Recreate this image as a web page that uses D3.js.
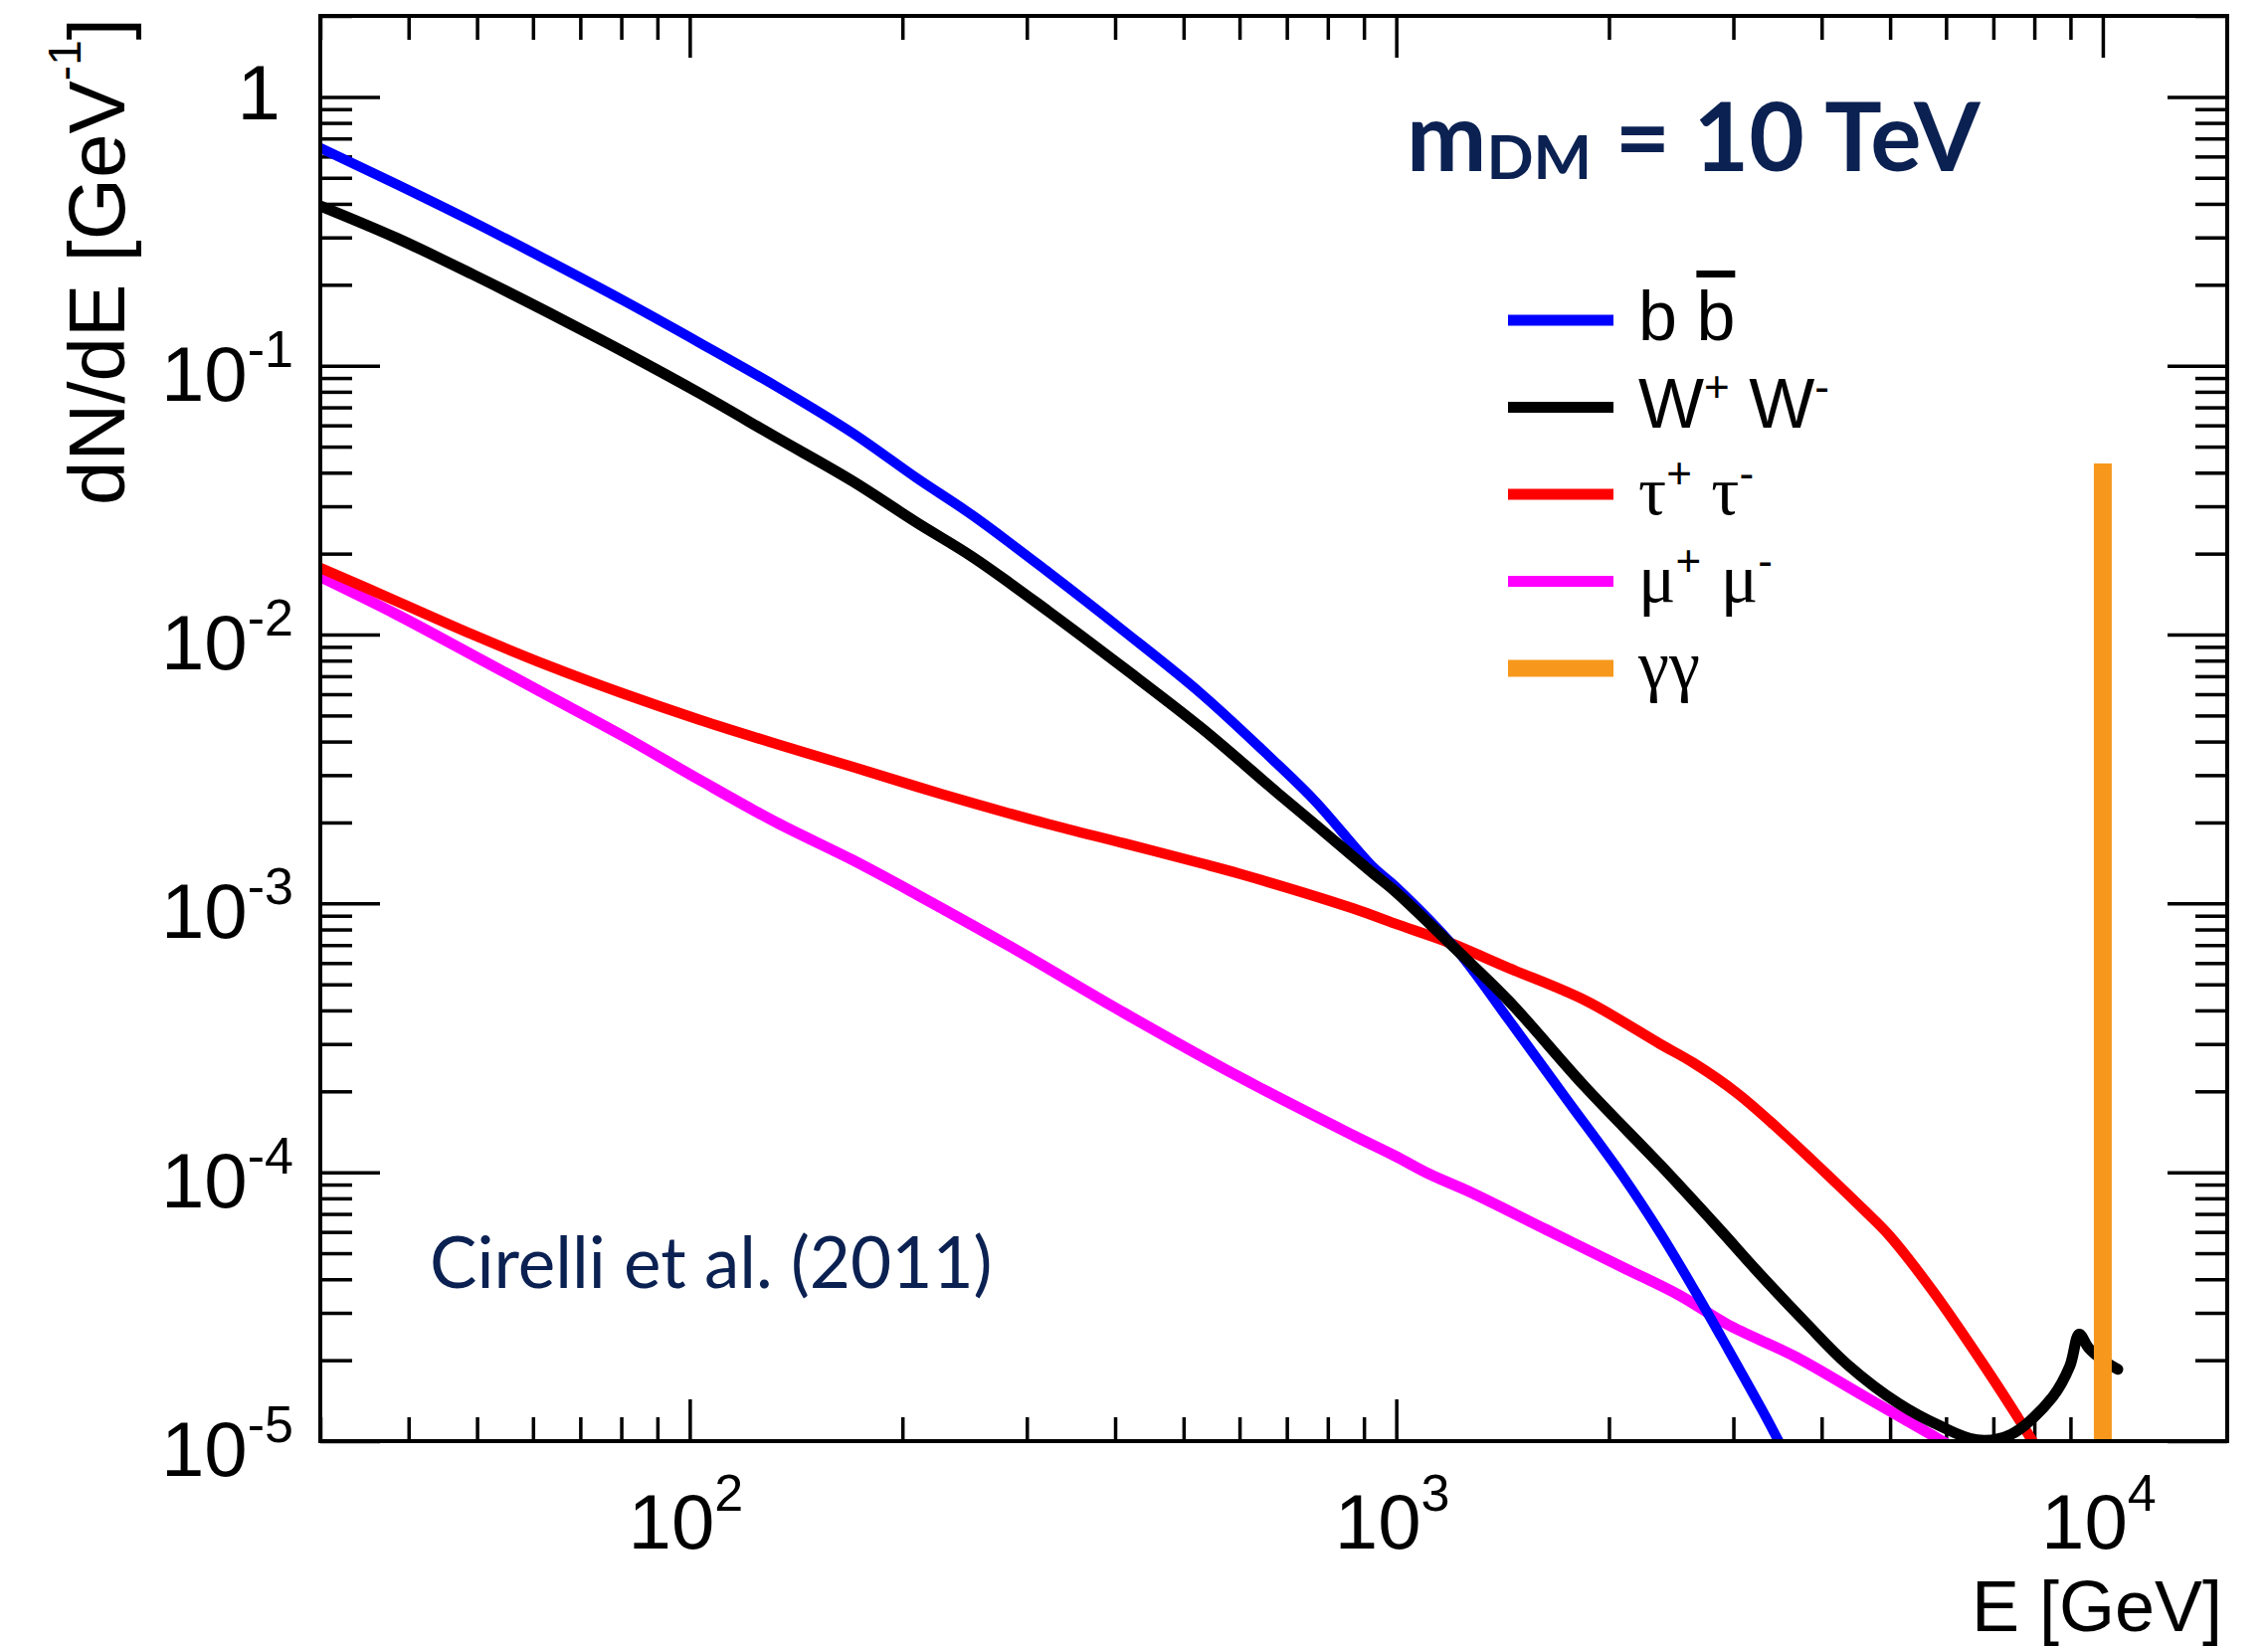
<!DOCTYPE html>
<html>
<head>
<meta charset="utf-8">
<script src="https://cdn.jsdelivr.net/npm/d3@7"></script>
<style>
  html, body { margin: 0; padding: 0; background: #ffffff; }
  svg { display: block; }
</style>
</head>
<body>
<svg id="chart" width="2280" height="1656"></svg>
<script>
// Photon spectra dN/dE [GeV^-1] from 10 TeV dark-matter annihilation, per channel.
// Energies in GeV.
const bbE = [30, 38.4, 49.2, 63, 80.8, 103.5, 132.6, 170, 209.5, 251.6, 322.4, 413, 529.5, 678.6, 769, 925, 996, 1212, 1443, 1737, 2092, 2368, 2650, 2940, 3287, 3495, 3650];
const bbV = [0.646, 0.474, 0.344, 0.246, 0.174, 0.1213, 0.0838, 0.0562, 0.0382, 0.0277, 0.0170, 0.01023, 0.00603, 0.00330, 0.00239, 0.001374, 0.001161, 0.000682, 0.000369, 0.000189, 0.0000968, 0.0000590, 0.0000360, 0.0000223, 0.0000132, 0.00000975, 0.00000785];

const wwE = [30, 38.4, 49.2, 63, 80.8, 103.5, 132.6, 170, 209.5, 251.6, 322.4, 413, 529.5, 678.6, 769, 925, 996, 1212, 1443, 1847, 2368, 2852, 3287, 3802, 4348, 5140, 5877, 6640, 7421, 8490, 8980, 9260, 9550, 10000, 10500];
const wwV = [0.393, 0.299, 0.219, 0.158, 0.1122, 0.0787, 0.0541, 0.0372, 0.0261, 0.0194, 0.01216, 0.00746, 0.00450, 0.00258, 0.00196, 0.00130, 0.00111, 0.000679, 0.000434, 0.000209, 0.000106, 0.0000624, 0.0000412, 0.0000275, 0.0000193, 0.0000138, 0.0000114, 0.0000101, 0.0000106, 0.0000146, 0.0000190, 0.0000250, 0.0000222, 0.0000200, 0.0000185];

const tauE = [30, 38.4, 49.2, 63, 80.8, 103.5, 132.6, 170, 209.5, 251.6, 322.4, 413, 529.5, 600, 870, 996, 1188, 1443, 1847, 2368, 2628, 3036, 3474, 3890, 4592, 4987, 5740, 6793, 7680, 8100];
const tauV = [0.0177, 0.01334, 0.01002, 0.00767, 0.00601, 0.00481, 0.00392, 0.00322, 0.00272, 0.00236, 0.00197, 0.00167, 0.00141, 0.00129, 0.000957, 0.000841, 0.000715, 0.000575, 0.000437, 0.000299, 0.000256, 0.000197, 0.000145, 0.000110, 0.0000724, 0.0000582, 0.0000363, 0.0000191, 0.0000116, 0.00000923];

const muE = [30, 38.4, 49.2, 63, 80.8, 103.5, 132.6, 170, 209.5, 284.8, 413, 600, 870, 996, 1116, 1274, 1632, 2092, 2520, 2940, 3672, 4592, 5740, 6150];
const muV = [0.0164, 0.01191, 0.00841, 0.00593, 0.00417, 0.00287, 0.00200, 0.00145, 0.00108, 0.000689, 0.000390, 0.000226, 0.000137, 0.000115, 0.0000982, 0.0000843, 0.0000611, 0.0000443, 0.0000348, 0.0000272, 0.0000206, 0.0000147, 0.0000105, 0.00000944];

// gamma-gamma line at E = m_DM
const gamE = [10000];
const gamV = [0.0433];

// Axis ticks and labels
const xMajorTicks = [100, 1000, 10000];
const xTickExp = ["2", "3", "4"];
const yMajorTicks = [1, 0.1, 0.01, 0.001, 0.0001, 0.00001];
const yTickExp = [null, "-1", "-2", "-3", "-4", "-5"];

// Legend entries
const legendKeys = ["bb", "ww", "tau", "mu", "gam"];
const legendLabels = [
  [{t: "b"}, {t: " "}, {t: "b", over: true}],
  [{t: "W"}, {t: "+", sup: true}, {t: " W"}, {t: "-", sup: true}],
  [{t: "\u03C4", greek: true}, {t: "+", sup: true}, {t: " "}, {t: "\u03C4", greek: true}, {t: "-", sup: true}],
  [{t: "\u03BC", greek: true}, {t: "+", sup: true}, {t: " "}, {t: "\u03BC", greek: true}, {t: "-", sup: true}],
  [{t: "\u03B3\u03B3", greek: true}]
];

const colors = { bb: "#0000ff", ww: "#000000", tau: "#ff0000", mu: "#ff00ff", gam: "#f7981d" };
const widths = { bb: 10, ww: 11, tau: 10.5, mu: 11, gam: 18 };

const svg = d3.select("#chart");
const W = 2280, H = 1656;
const margin = { left: 322, right: W - 2239, top: 16, bottom: H - 1449 };
const x0 = margin.left, x1 = W - margin.right, y0 = margin.top, y1 = H - margin.bottom;

const x = d3.scaleLog().domain([30, 15000]).range([x0, x1]);
const y = d3.scaleLog().domain([1e-5, 2]).range([y1, y0]);

svg.append("rect").attr("width", W).attr("height", H).attr("fill", "#ffffff");

svg.append("defs").append("clipPath").attr("id", "plotClip")
  .append("rect").attr("x", x0).attr("y", y0).attr("width", x1 - x0).attr("height", y1 - y0);

// ---- ticks (inward on all four sides) ----
const isMajor = v => Math.abs(Math.log10(v) - Math.round(Math.log10(v))) < 1e-9;
const xMinor = x.ticks().filter(v => !isMajor(v));
const yMinor = y.ticks().filter(v => !isMajor(v));

function styleAxis(g) {
  g.select(".domain").remove();
  g.selectAll(".tick line").attr("stroke", "#000").attr("stroke-width", 3.5);
  g.selectAll(".tick text").remove();
}

const xMajLen = 42, xMinLen = 24, yMajLen = 60, yMinLen = 32;

svg.append("g").attr("transform", `translate(0,${y1})`)
  .call(d3.axisBottom(x).tickValues(xMinor).tickSize(-xMinLen).tickFormat("")).call(styleAxis);
svg.append("g").attr("transform", `translate(0,${y1})`)
  .call(d3.axisBottom(x).tickValues(xMajorTicks).tickSize(-xMajLen).tickFormat("")).call(styleAxis);
svg.append("g").attr("transform", `translate(0,${y0})`)
  .call(d3.axisTop(x).tickValues(xMinor).tickSize(-xMinLen).tickFormat("")).call(styleAxis);
svg.append("g").attr("transform", `translate(0,${y0})`)
  .call(d3.axisTop(x).tickValues(xMajorTicks).tickSize(-xMajLen).tickFormat("")).call(styleAxis);

svg.append("g").attr("transform", `translate(${x0},0)`)
  .call(d3.axisLeft(y).tickValues(yMinor).tickSize(-yMinLen).tickFormat("")).call(styleAxis);
svg.append("g").attr("transform", `translate(${x0},0)`)
  .call(d3.axisLeft(y).tickValues(yMajorTicks).tickSize(-yMajLen).tickFormat("")).call(styleAxis);
svg.append("g").attr("transform", `translate(${x1},0)`)
  .call(d3.axisRight(y).tickValues(yMinor).tickSize(-yMinLen).tickFormat("")).call(styleAxis);
svg.append("g").attr("transform", `translate(${x1},0)`)
  .call(d3.axisRight(y).tickValues(yMajorTicks).tickSize(-yMajLen).tickFormat("")).call(styleAxis);

// ---- tick labels ----
const axisFont = "'Liberation Sans', Arial, Helvetica, sans-serif";
const labelSize = 78, expSize = 52;

const xl = svg.append("g").attr("font-family", axisFont).attr("fill", "#000");
xMajorTicks.forEach((v, i) => {
  const t = xl.append("text")
    .attr("x", x(v) - 4).attr("y", y1 + 108)
    .attr("text-anchor", "middle").attr("font-size", labelSize);
  t.append("tspan").text("10");
  t.append("tspan").attr("font-size", expSize).attr("dy", -38).text(xTickExp[i]);
});

const yl = svg.append("g").attr("font-family", axisFont).attr("fill", "#000");
yMajorTicks.forEach((v, i) => {
  if (yTickExp[i] === null) {
    yl.append("text").attr("x", 282).attr("y", y(v) + 23)
      .attr("text-anchor", "end").attr("font-size", labelSize).text("1");
  } else {
    const t = yl.append("text").attr("x", 295).attr("y", y(v) + 35)
      .attr("text-anchor", "end").attr("font-size", labelSize);
    t.append("tspan").text("10");
    t.append("tspan").attr("font-size", expSize).attr("dy", -34).text(yTickExp[i]);
  }
});

// ---- axis titles ----
const yt = svg.append("text")
  .attr("transform", "translate(125,18) rotate(-90)")
  .attr("text-anchor", "end").attr("font-family", axisFont).attr("font-size", 80).attr("fill", "#000");
yt.append("tspan").text("dN/dE [GeV");
yt.append("tspan").attr("font-size", 46).attr("dy", -44).text("-1");
yt.append("tspan").attr("dy", 44).text("]");

svg.append("text")
  .attr("x", 2234).attr("y", 1640)
  .attr("text-anchor", "end").attr("font-family", axisFont).attr("font-size", 72).attr("fill", "#000")
  .text("E [GeV]");

// ---- spectra ----
const series = [
  { key: "mu", E: muE, V: muV },
  { key: "tau", E: tauE, V: tauV },
  { key: "bb", E: bbE, V: bbV },
  { key: "ww", E: wwE, V: wwV }
];

const line = d3.line()
  .x(d => x(d[0]))
  .y(d => y(d[1]))
  .curve(d3.curveCatmullRom.alpha(0.5));

const plot = svg.append("g").attr("clip-path", "url(#plotClip)");
series.forEach(s => {
  plot.append("path")
    .datum(d3.zip(s.E, s.V))
    .attr("fill", "none")
    .attr("stroke", colors[s.key])
    .attr("stroke-width", widths[s.key])
    .attr("stroke-linejoin", "round")
    .attr("stroke-linecap", "round")
    .attr("d", line);
});

// gamma-gamma line drawn as a vertical bar from the axis floor
plot.selectAll("line.gam")
  .data(d3.zip(gamE, gamV))
  .join("line")
  .attr("class", "gam")
  .attr("x1", d => x(d[0])).attr("x2", d => x(d[0]))
  .attr("y1", y(1e-5)).attr("y2", d => y(d[1]))
  .attr("stroke", colors.gam).attr("stroke-width", widths.gam);

// ---- frame ----
svg.append("rect")
  .attr("x", x0).attr("y", y0).attr("width", x1 - x0).attr("height", y1 - y0)
  .attr("fill", "none").attr("stroke", "#000").attr("stroke-width", 4);

// ---- legend ----
const leg = svg.append("g").attr("transform", "translate(1516,322)");
const rowGap = 87.5;
legendKeys.forEach((k, i) => {
  const row = leg.append("g").attr("transform", `translate(0,${i * rowGap})`);
  row.append("line").attr("x1", 0).attr("x2", 106).attr("y1", 0).attr("y2", 0)
    .attr("stroke", colors[k]).attr("stroke-width", k === "gam" ? 17 : 11);
  const t = row.append("text").attr("x", 131).attr("y", 20)
    .attr("font-family", axisFont).attr("font-size", 70).attr("fill", "#000");
  let shifted = false;
  legendLabels[i].forEach(p => {
    const sp = t.append("tspan").text(p.t);
    if (p.greek) sp.attr("font-family", "'Liberation Serif', 'DejaVu Serif', serif");
    if (p.over) sp.style("text-decoration", "overline");
    if (p.sup) { sp.attr("font-size", 44).attr("dy", -26); shifted = true; }
    else if (shifted) { sp.attr("dy", 26); shifted = false; }
  });
});

// ---- annotations ----
const navy = "#0b2152";
const title = svg.append("text")
  .attr("x", 1414).attr("y", 172)
  .attr("font-family", "Lato, 'Open Sans', sans-serif").attr("font-weight", 700)
  .attr("font-size", 96).attr("fill", navy);
title.append("tspan").text("m");
title.append("tspan").attr("font-size", 62).attr("dy", 8).text("DM");
title.append("tspan").attr("dy", -8).text(" = 10 TeV");

svg.append("text")
  .attr("x", 432).attr("y", 1295)
  .attr("font-family", "Lato, 'Open Sans', sans-serif")
  .attr("font-size", 71).attr("fill", navy)
  .text("Cirelli et al. (2011)");
</script>
</body>
</html>
